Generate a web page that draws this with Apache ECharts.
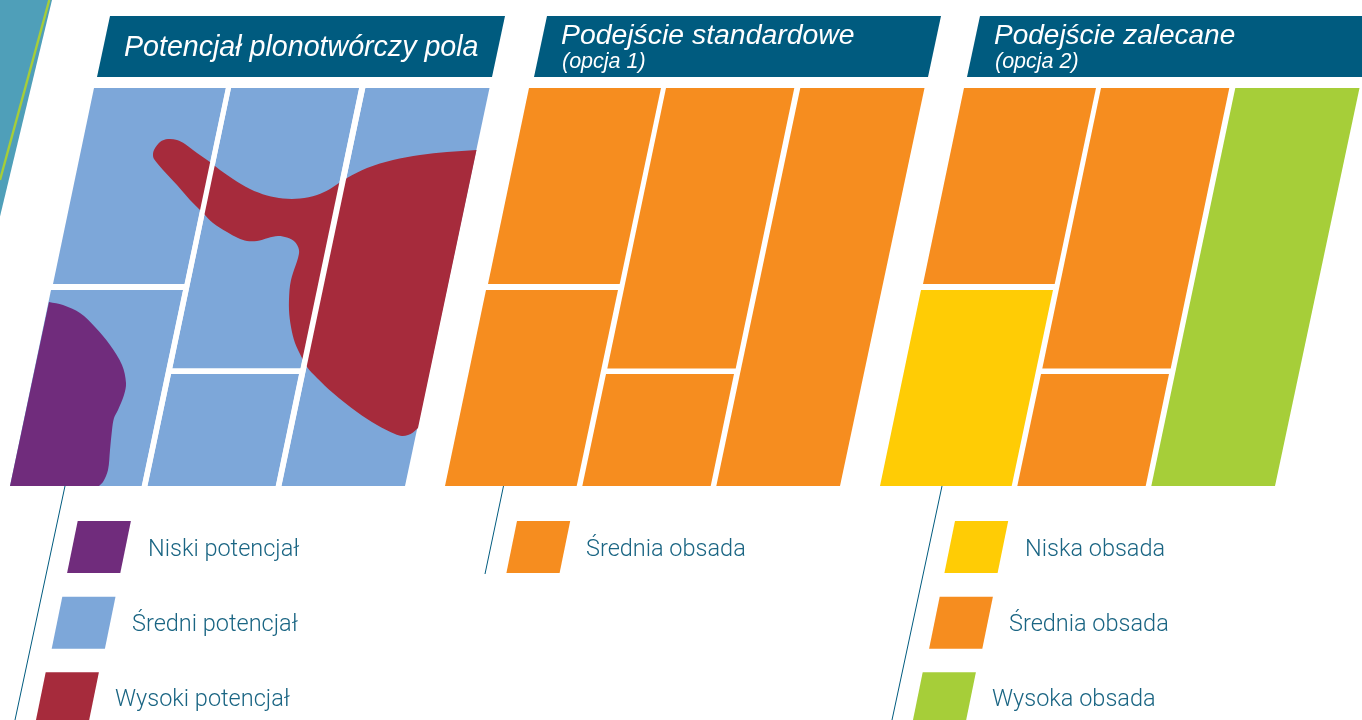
<!DOCTYPE html>
<html><head><meta charset="utf-8">
<style>html,body{margin:0;padding:0;background:#fff}#c{width:1362px;height:720px}</style>
<script src="https://cdn.jsdelivr.net/npm/echarts@6/dist/echarts.min.js"></script>
</head><body><div id="c"></div>
<script>
// Layout, in image units (x right, y down)
const cornerWedge = [[0,0],[52,0],[0,216.5]];
const cornerStripe = [[49.3,0],[0,180]];
const fieldOffsets = [0,435,870];
const cellA1 = [[94,88],[226,88],[184.7,284],[53,284]];
const cellA2 = [[51,290],[183,290],[141.7,486],[10,486]];
const cellB1 = [[231,88],[359.3,88],[300.7,368.5],[172.3,368.5]];
const cellB2 = [[171,374],[299,374],[275.7,486],[147.3,486]];
const cellC  = [[365.3,88],[489.5,88],[405,486],[281.3,486]];
const cells = [cellA1,cellA2,cellB1,cellB2,cellC];
const potentialCellClass = ['sredni','sredni','sredni','sredni','sredni'];
const option1CellClass = ['srednia','srednia','srednia','srednia','srednia'];
const option2CellClass = ['srednia','niska','srednia','srednia','wysoka'];
// repeated points mark sharp corners of the outlined zones
const highZone = [[153,155],[154,150],[160,142],[168,139],[177,140],[185,144],[197,153],[210,162],[220,170],[233,179],[250,189],[267,195.5],[283,198.5],[300,198.5],[317,195],[330,189],[339,183],[347,178],[367,168],[393,160],[420,155],[447,152],[476.5,150],[476.5,150],[418,428],[418,428],[413,432.5],[408,435],[402,436],[395,434],[377,425],[357,412],[333,393],[317,378],[307,367],[302,358],[295,343],[291,327],[289,310],[289.5,290],[291,280],[293,273],[298,258],[299,250],[295,242],[287,237.5],[278,236],[268,238],[257,241],[247,241],[238,238],[227,232],[213,223],[203,213],[190,200],[177,185],[163,170],[154,159]];
const lowZone = [[49,302],[49,302],[63,305],[80,313],[95,327],[110,345],[122,365],[126,383],[124,395],[118,410],[114,418],[112,430],[110,450],[108,470],[103,482],[99,486],[99,486],[10,486],[10,486]];
const gutters = [[[226,87],[231.2,87],[147.3,487],[141.7,487]],[[359.3,87],[365.5,87],[281.3,487],[275.7,487]],[[40,284],[188,284],[188,290],[40,290]],[[171,368.5],[304,368.5],[304,374],[171,374]]];
const banners = [[[110,16],[505,16],[492,77],[97,77]],[[547,16],[941,16],[928,77],[534,77]],[[980,16],[1375,16],[1362,77],[967,77]]];
const titles = ['Potencjał plonotwórczy pola','Podejście standardowe','Podejście zalecane'];
const titleSizes = [28.6,28.4,28];
const titleAnchors = [[124,48],[561,36],[994,36]];
const subtitles = ['','(opcja 1)','(opcja 2)'];
const subtitleAnchors = [[0,0],[562,62],[995,62]];
const leaders = [[[65,486],[15,720]],[[503.5,486],[485,574]],[[942,486],[892,720]]];
const legendLabels = ['Niski potencjał','Średni potencjał','Wysoki potencjał','Średnia obsada','Niska obsada','Średnia obsada','Wysoka obsada'];
const legendClass = ['niski','sredni','wysoki','srednia','niska','srednia','wysoka'];
const legendSwatches = [[77.7,521],[62.3,596.7],[45.7,672.3],[517,521],[955,521],[939.7,596.7],[922.7,672.3]];
const legendAnchors = [[148,550],[132,625],[115,700.5],[586,550],[1025,550],[1009,625],[992,700.5]];
const COLORS = {niski:'#702c7c',sredni:'#7da7d9',wysoki:'#a62b3c',srednia:'#f68d1f',niska:'#ffcc05',wysoka:'#a6ce39',banner:'#005b7f',ink:'#1a6583',wedge:'#4f9fb9',stripe:'#a6ce39'};
const SW = 53.2, SH = 52, SK = 10.6;

const items = [];
const poly = (pts,fill,smooth) => items.push({k:'poly',pts,fill,smooth});
poly(cornerWedge,COLORS.wedge);
items.push({k:'line',pts:cornerStripe,stroke:COLORS.stripe,w:2.4});
banners.forEach(b=>poly(b,COLORS.banner));
const shift=(p,o)=>p.map(q=>[q[0]+o,q[1]]);
cells.forEach((c,i)=>poly(shift(c,fieldOffsets[0]),COLORS[potentialCellClass[i]]));
poly(highZone,COLORS.wysoki,0.33);
poly(lowZone,COLORS.niski,0.33);
gutters.forEach(g=>poly(g,'#ffffff'));
cells.forEach((c,i)=>poly(shift(c,fieldOffsets[1]),COLORS[option1CellClass[i]]));
cells.forEach((c,i)=>poly(shift(c,fieldOffsets[2]),COLORS[option2CellClass[i]]));
leaders.forEach(l=>items.push({k:'line',pts:l,stroke:COLORS.banner,w:1}));
legendSwatches.forEach((s,i)=>poly([[s[0],s[1]],[s[0]+SW,s[1]],[s[0]+SW-SK,s[1]+SH],[s[0]-SK,s[1]+SH]],COLORS[legendClass[i]]));
titles.forEach((t,i)=>items.push({k:'text',t,at:titleAnchors[i],font:'italic 400 '+titleSizes[i]+'px "Liberation Sans"',fill:'#fff'}));
subtitles.forEach((t,i)=>{if(t)items.push({k:'text',t,at:subtitleAnchors[i],font:'italic 400 21.5px "Liberation Sans"',fill:'#fff'})});
legendLabels.forEach((t,i)=>items.push({k:'text',t,at:legendAnchors[i],font:'300 23.5px Roboto',fill:COLORS.ink}));

const chart = echarts.init(document.getElementById('c'),null,{renderer:'canvas'});
chart.setOption({
  animation:false,
  grid:{left:0,right:0,top:0,bottom:0},
  xAxis:{type:'value',min:0,max:1362,show:false},
  yAxis:{type:'value',min:0,max:720,inverse:true,show:false},
  series:[{
    type:'custom',coordinateSystem:'cartesian2d',clip:false,silent:true,
    data:items.map((_,i)=>[i]),encode:{x:0},
    renderItem(params,api){
      const it=items[api.value(0)];
      if(it.k==='poly')return{type:'polygon',shape:{points:it.pts.map(p=>api.coord(p)),smooth:it.smooth||0},style:{fill:it.fill}};
      if(it.k==='line'){const a=api.coord(it.pts[0]),b=api.coord(it.pts[1]);
        return{type:'line',shape:{x1:a[0],y1:a[1],x2:b[0],y2:b[1]},style:{stroke:it.stroke,lineWidth:it.w}};}
      const p=api.coord(it.at);
      return{type:'text',x:p[0],y:p[1],style:{text:it.t,font:it.font,fill:it.fill,textAlign:'left',textVerticalAlign:'middle'}};
    }
  }]
});
</script></body></html>
